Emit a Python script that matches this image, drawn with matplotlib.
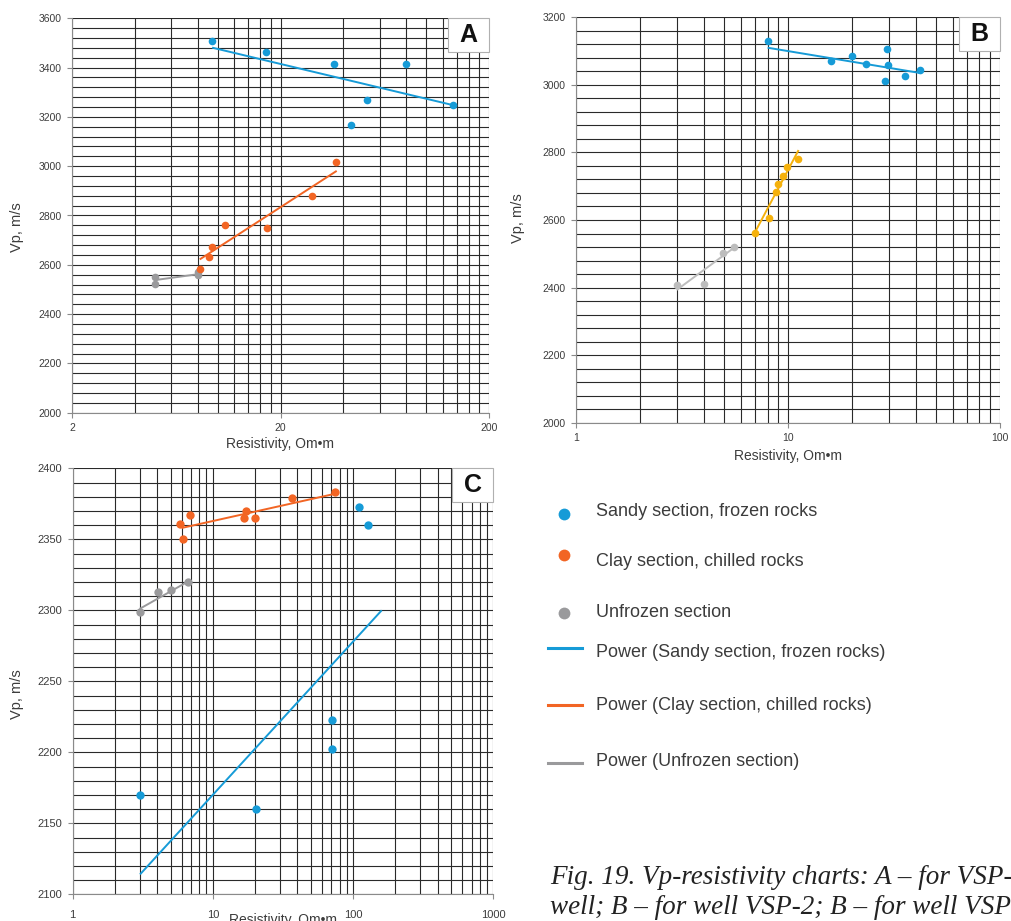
import matplotlib
matplotlib.use("Agg")
import matplotlib.pyplot as plt
from matplotlib.patches import Rectangle
from matplotlib.ticker import FixedLocator, NullFormatter, FuncFormatter

# ---------------- data ----------------
# panel A
a_sand_x = [9.4, 17.0, 36.0, 79.8, 52.2, 43.6, 134]
a_sand_y = [3507, 3463, 3415, 3415, 3270, 3166, 3248]
a_clay_x = [8.2, 9.1, 9.4, 10.8, 17.3, 28.2, 37.0]
a_clay_y = [2584, 2630, 2672, 2761, 2748, 2880, 3016]
a_unfr_x = [5.0, 5.0, 8.0, 8.0]
a_unfr_y = [2552, 2521, 2572, 2557]
a_sand_fit = ([9.4, 134], [3481, 3248])
a_clay_fit = ([8.2, 37.2], [2622, 2981])
a_unfr_fit = ([5.0, 7.9], [2538, 2561])

# panel B
b_sand_x = [8.0, 15.9, 20.1, 23.2, 29.2, 29.7, 28.8, 35.7, 42.1]
b_sand_y = [3130, 3070, 3086, 3061, 3106, 3059, 3011, 3027, 3043]
b_clay_x = [6.95, 8.15, 8.73, 8.92, 9.42, 9.91, 11.1]
b_clay_y = [2561, 2606, 2682, 2707, 2731, 2756, 2781]
b_unfr_x = [2.98, 3.99, 4.92, 5.57]
b_unfr_y = [2408, 2411, 2501, 2521]
b_sand_fit = ([8.0, 42.1], [3110, 3035])
b_clay_fit = ([6.95, 11.2], [2562, 2807])
b_unfr_fit = ([2.98, 5.5], [2393, 2516])

# panel C
c_sand_x = [3.02, 20.2, 70.7, 70.7, 110, 128]
c_sand_y = [2170, 2160, 2223, 2202, 2373, 2360]
c_clay_x = [5.83, 6.09, 6.87, 16.8, 17.1, 19.9, 36.9, 73.9]
c_clay_y = [2361, 2350, 2367, 2365, 2370, 2365, 2379, 2383]
c_unfr_x = [3.02, 4.04, 5.03, 6.61]
c_unfr_y = [2299, 2313, 2314, 2320]
c_sand_fit = ([3.02, 160], [2114, 2300])
c_clay_fit = ([6.0, 73.9], [2358, 2382])
c_unfr_fit = ([3.0, 6.85], [2301, 2321])

legend_labels = ["Sandy section, frozen rocks",
                 "Clay section, chilled rocks",
                 "Unfrozen section",
                 "Power (Sandy section, frozen rocks)",
                 "Power (Clay section, chilled rocks)",
                 "Power (Unfrozen section)"]

caption_lines = ["Fig. 19. Vp-resistivity charts: A \u2013 for VSP-1",
                 "well; B \u2013 for well VSP-2; B \u2013 for well VSP-3."]

# ---------------- style ----------------
BLUE = "#169bd7"
ORANGE = "#f26524"
GRAY = "#9a9a9c"
GOLD = "#f5b10c"
LGRAY = "#bdbdbd"
GRID = "#2a2a2a"
TXT = "#3c3c3c"

plt.rcParams["font.family"] = ["Liberation Sans", "DejaVu Sans"]

fig = plt.figure(figsize=(10.12, 9.21), dpi=100)
W, H = 1012, 921


def px_axes(l, t, r, b):
    return fig.add_axes([l / W, 1 - b / H, (r - l) / W, (b - t) / H])


def minor_log(decades, first=1):
    vals = []
    for n in range(decades):
        for k in range(1, 11):
            vals.append(first * k * 10 ** n)
    return vals


def setup(ax, xlim, xmajor, xminor, ylim, ystep, yminor, letter, fs, xlab_y, ylab_xy):
    ax.set_xscale("log")
    ax.set_xlim(*xlim)
    ax.set_ylim(*ylim)
    ax.xaxis.set_major_locator(FixedLocator(xmajor))
    ax.xaxis.set_minor_locator(FixedLocator(xminor))
    ax.xaxis.set_major_formatter(FuncFormatter(lambda v, p: "%g" % v))
    ax.xaxis.set_minor_formatter(NullFormatter())
    yt = list(range(ylim[0], ylim[1] + 1, ystep))
    ax.yaxis.set_major_locator(FixedLocator(yt))
    ax.yaxis.set_minor_locator(FixedLocator(list(range(ylim[0], ylim[1] + 1, yminor))))
    ax.grid(True, which="both", color=GRID, lw=0.8)
    ax.set_axisbelow(True)
    for s in ("top", "right"):
        ax.spines[s].set_visible(False)
    for s in ("left", "bottom"):
        ax.spines[s].set_color("#8a8a8a")
        ax.spines[s].set_linewidth(0.8)
    ax.tick_params(which="major", length=3.5, width=0.8, color="#8a8a8a",
                   labelsize=fs, labelcolor=TXT, pad=4)
    ax.tick_params(which="minor", length=0)
    ax.set_xlabel("Resistivity, Om\u2022m", fontsize=10, color=TXT)
    ax.xaxis.set_label_coords(0.5, xlab_y)
    ax.set_ylabel("Vp, m/s", fontsize=10.5, color=TXT)
    ax.yaxis.set_label_coords(*ylab_xy)
    # panel letter box in the upper right corner
    bb = ax.get_position()
    bw = 41 / (bb.width * W)
    bh = 34 / (bb.height * H)
    ax.add_patch(Rectangle((1 - bw, 1 - bh), bw, bh, transform=ax.transAxes,
                           facecolor="white", edgecolor="#b0b0b0", lw=0.8,
                           zorder=5, clip_on=False))
    ax.text(1 - bw / 2, 1 - bh / 2, letter, transform=ax.transAxes,
            ha="center", va="center", fontsize=18, fontweight="bold",
            color="#111111", zorder=6)


def draw(ax, pts, fits, ms):
    for (fx, fy, fc) in fits:
        ax.plot(fx, fy, color=fc, lw=1.4, zorder=3, solid_capstyle="butt")
    for (x, y, c) in pts:
        ax.plot(x, y, "o", color=c, ms=ms, mec="none", zorder=4)


# ---------------- panel A ----------------
axA = px_axes(72, 18.3, 489, 412.7)
setup(axA, (2, 200), [2, 20, 200], minor_log(2, first=2),
      (2000, 3600), 200, 40, "A", 7.5, -0.062, (-0.115, 0.47))
draw(axA,
     [(a_unfr_x, a_unfr_y, GRAY), (a_clay_x, a_clay_y, ORANGE), (a_sand_x, a_sand_y, BLUE)],
     [(*a_unfr_fit, GRAY), (*a_clay_fit, ORANGE), (*a_sand_fit, BLUE)], 5.5)

# ---------------- panel B ----------------
axB = px_axes(576.3, 17.3, 1000, 422.7)
setup(axB, (1, 100), [1, 10, 100], minor_log(2),
      (2000, 3200), 200, 40, "B", 7.5, -0.065, (-0.121, 0.505))
draw(axB,
     [(b_unfr_x, b_unfr_y, LGRAY), (b_clay_x, b_clay_y, GOLD), (b_sand_x, b_sand_y, BLUE)],
     [(*b_unfr_fit, LGRAY), (*b_clay_fit, GOLD), (*b_sand_fit, BLUE)], 5.5)

# ---------------- panel C ----------------
axC = px_axes(72.7, 468.3, 493.3, 894.3)
setup(axC, (1, 1000), [1, 10, 100, 1000], minor_log(3),
      (2100, 2400), 50, 10, "C", 8, -0.045, (-0.116, 0.47))
draw(axC,
     [(c_unfr_x, c_unfr_y, GRAY), (c_clay_x, c_clay_y, ORANGE), (c_sand_x, c_sand_y, BLUE)],
     [(*c_unfr_fit, GRAY), (*c_clay_fit, ORANGE), (*c_sand_fit, BLUE)], 6)
axC.tick_params(axis="x", pad=8)

# ---------------- legend ----------------
leg = fig.add_axes([0, 0, 1, 1], zorder=-1)
leg.set_xlim(0, W)
leg.set_ylim(H, 0)
leg.axis("off")
leg_colors = [BLUE, ORANGE, GRAY, BLUE, ORANGE, GRAY]
leg_sym_y = [514, 555, 613, 648, 705, 763]
leg_txt_y = [511, 561, 612, 652, 705, 761]
for i, (lab, c) in enumerate(zip(legend_labels, leg_colors)):
    if i < 3:
        leg.plot([564], [leg_sym_y[i]], "o", color=c, ms=8.5, mec="none")
    else:
        leg.plot([548, 582], [leg_sym_y[i]] * 2, color=c, lw=2.2)
    leg.text(596, leg_txt_y[i], lab, fontsize=13, color=TXT, va="center", ha="left")

# ---------------- caption ----------------
for i, line in enumerate(caption_lines):
    leg.text(550, 877 + 30 * i, line, fontsize=19.5, style="italic",
             family=["Liberation Serif", "DejaVu Serif"], color="#222222",
             va="center", ha="left")

fig.savefig("out.png", dpi=100)
